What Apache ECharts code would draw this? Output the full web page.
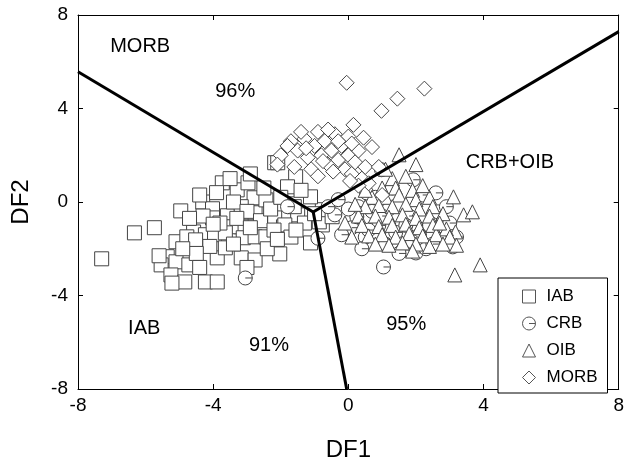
<!DOCTYPE html>
<html><head><meta charset="utf-8">
<script src="https://cdn.jsdelivr.net/npm/echarts@6/dist/echarts.min.js"></script>
<style>html,body{margin:0;padding:0;background:#fff}#c{width:627px;height:472px}</style>
</head><body><div id="c"></div>
<script>
var xTicks = [-8, -4, 0, 4, 8];
var yTicks = [-8, -4, 0, 4, 8];

var iab = [[-7.3,-2.43],[-6.33,-1.32],[-5.74,-1.1],[-4.96,-0.38],[-2.18,1.68],[-3.73,0.82],[-3.29,0.52],[-4.31,0.0],[-4.02,-0.29],[-4.02,-0.68],[-3.58,-0.59],[-2.97,0.82],[-2.79,0.18],[-3.17,-0.2],[-2.76,-0.46],[-2.44,0.09],[-2.18,-0.68],[-1.92,-1.06],[-1.8,0.52],[-3.17,-1.06],[-3.47,-1.06],[-4.58,-1.28],[-4.23,-1.4],[-3.96,-1.4],[-3.64,-1.32],[-3.11,-1.53],[-2.76,-1.49],[-2.44,-1.49],[-5.1,-1.7],[-5.36,-2.34],[-5.1,-2.56],[-4.72,-2.69],[-5.54,-2.69],[-5.25,-3.12],[-4.84,-3.42],[-5.22,-3.47],[-4.23,-3.42],[-3.88,-3.42],[-3.88,-2.39],[-3.64,-1.96],[-3.17,-2.39],[-2.76,-2.48],[-2.03,-2.22],[-4.78,-1.49],[-4.52,-1.62],[-1.12,-1.75],[-1.5,-0.55],[-0.77,-0.98],[-2.09,1.68],[-1.56,1.08],[-1.8,0.65],[-1.88,-0.98],[-0.86,-0.85],[-0.77,-0.33],[-0.48,-0.63],[-1.12,0.22],[-4.3,-0.6],[-3.9,0.4],[-3.4,0.0],[-3.0,-0.4],[-2.6,-0.8],[-2.3,-0.3],[-2.0,0.2],[-1.6,-0.2],[-1.3,-0.9],[-1.4,0.5],[-3.3,-0.7],[-3.8,-0.9],[-4.1,-1.9],[-4.5,-2.2],[-4.9,-2.0],[-3.4,-1.8],[-2.9,-1.1],[-2.2,-1.2],[-1.7,-1.5],[-2.5,0.6],[-2.9,1.2],[-3.5,1.0],[-4.4,0.3],[-4.7,-0.7],[-1.0,-0.5],[-2.4,-2.0],[-3.0,-2.8],[-4.4,-2.8],[-5.6,-2.3],[-4.0,-0.95],[-2.1,-1.6],[-1.55,-1.2]];

var crb = [[-3.05,-3.25],[-0.9,-1.55],[-1.8,-0.2],[1.04,-2.78],[2.59,0.39],[0.98,1.38],[1.92,0.95],[2.59,-0.55],[2.82,-0.85],[3.09,-1.92],[0.1,-1.1],[-0.4,-0.55],[0.25,-0.63],[0.54,0.39],[2.0,-2.18],[1.62,-2.05],[2.65,-0.42],[0.3,-0.2],[0.7,-0.4],[0.9,-1.0],[1.2,-0.3],[1.4,-1.3],[1.8,-0.6],[2.1,-1.4],[2.4,-1.0],[2.7,-1.6],[0.5,-1.5],[1.1,-1.8],[1.5,-2.2],[2.3,-2.0],[0.8,0.2],[1.3,0.6],[1.7,-1.0],[2.2,0.3],[0.4,-2.0],[3.2,-1.5],[2.9,-0.2],[0.0,-0.3],[-0.2,-1.4],[1.9,-1.7],[2.5,-1.8],[1.0,-0.6],[0.6,-1.2],[3.0,-0.9],[-0.6,-0.2],[-0.3,0.1]];

var oib = [[1.5,2.02],[2.0,1.6],[3.11,0.22],[3.41,-0.55],[3.67,-0.42],[3.17,-1.28],[3.9,-2.69],[3.15,-3.12],[1.3,1.0],[1.7,1.1],[1.0,0.6],[1.4,0.6],[1.9,0.5],[0.7,0.2],[1.1,0.2],[1.5,0.3],[2.0,0.1],[2.4,0.2],[0.5,-0.2],[0.9,-0.15],[1.3,-0.2],[1.7,-0.1],[2.1,-0.3],[2.5,-0.2],[0.3,-0.6],[0.8,-0.6],[1.2,-0.65],[1.6,-0.55],[2.0,-0.7],[2.4,-0.6],[2.8,-0.5],[0.4,-1.0],[0.9,-1.05],[1.3,-1.0],[1.7,-0.95],[2.1,-1.1],[2.5,-1.0],[2.9,-1.15],[0.6,-1.45],[1.0,-1.4],[1.4,-1.5],[1.8,-1.35],[2.2,-1.45],[2.6,-1.4],[3.0,-1.5],[0.8,-1.8],[1.2,-1.85],[1.6,-1.75],[2.0,-1.8],[2.4,-1.9],[2.8,-1.8],[3.2,-1.85],[0.2,-0.1],[0.1,-1.5],[-0.1,-0.9],[1.1,1.4],[2.2,0.7],[2.7,-0.9],[0.5,0.5],[1.9,-2.1]];

var morb = [[-0.05,5.1],[2.25,4.85],[1.45,4.42],[0.98,3.9],[0.15,3.3],[0.45,2.75],[0.7,2.35],[0.0,2.8],[-2.0,2.0],[-1.7,2.6],[-1.5,2.2],[-1.3,2.7],[-1.2,1.9],[-1.0,2.4],[-0.9,3.0],[-0.8,2.0],[-0.7,2.6],[-0.6,1.6],[-0.5,2.2],[-0.4,2.9],[-0.3,1.8],[-0.2,2.4],[-0.1,1.4],[0.0,2.0],[0.1,1.2],[0.2,1.7],[0.3,2.2],[0.4,1.0],[0.5,1.5],[0.6,0.8],[-1.6,1.5],[-1.4,3.0],[-1.1,1.4],[-0.9,1.1],[-0.6,3.1],[-0.3,2.6],[0.1,2.5],[-1.8,2.4],[-1.25,2.3],[-0.45,1.3],[0.3,0.7],[0.9,1.5],[1.0,0.3],[-2.1,1.6],[-0.75,1.75],[0.05,0.9]];

var junction = [-1.04, -0.43];
var boundaryA = [[-8, 5.57], junction];
var boundaryB = [junction, [8, 7.29]];
var boundaryC = [junction, [-0.05, -8]];

var regionLabels = [
  {name: 'MORB', value: [-6.16, 6.65]},
  {name: '96%', value: [-3.35, 4.72]},
  {name: 'CRB+OIB', value: [4.78, 1.68]},
  {name: 'IAB', value: [-6.04, -5.39]},
  {name: '91%', value: [-2.35, -6.12]},
  {name: '95%', value: [1.71, -5.26]}
];

var FONT = 'Liberation Sans, Arial, sans-serif';
var circlePath = 'path://M0,10 A10,10 0 1,1 20,10 A10,10 0 1,1 0,10 Z M10,10 L20,10';
var mk = {color: '#fff', borderColor: '#444', borderWidth: 1, opacity: 1};

function pts(name, data, symbol, size) {
  return {type: 'scatter', name: name, data: data, symbol: symbol, symbolSize: size,
    itemStyle: mk, emphasis: {disabled: true}, z: 2, animation: false};
}
function line(d) {
  return {type: 'line', data: d, symbol: 'none', lineStyle: {color: '#000', width: 3},
    z: 5, silent: true, animation: false};
}

var chart = echarts.init(document.getElementById('c'), null, {renderer: 'canvas'});
var axisCommon = {
  type: 'value', min: -8, max: 8, interval: 4,
  axisLine: {show: true, onZero: false, lineStyle: {color: '#000', width: 1}},
  axisTick: {show: true, inside: true, length: 5, lineStyle: {color: '#000'}},
  splitLine: {show: false}
};
chart.setOption({
  backgroundColor: '#fff',
  animation: false,
  textStyle: {fontFamily: FONT},
  grid: {left: 78, right: 2, top: 15, bottom: 83},
  xAxis: [
    Object.assign({}, axisCommon, {position: 'bottom',
      axisLabel: {color: '#000', fontSize: 19, margin: 7, fontFamily: FONT},
      name: 'DF1', nameLocation: 'middle', nameGap: 49,
      nameTextStyle: {color: '#000', fontSize: 24, fontFamily: FONT}}),
    Object.assign({}, axisCommon, {position: 'top', axisLabel: {show: false}})
  ],
  yAxis: [
    Object.assign({}, axisCommon, {position: 'left',
      axisLabel: {color: '#000', fontSize: 19, margin: 10, fontFamily: FONT},
      name: 'DF2', nameLocation: 'middle', nameGap: 45, nameRotate: 90,
      nameTextStyle: {color: '#000', fontSize: 24, fontFamily: FONT}}),
    Object.assign({}, axisCommon, {position: 'right', axisLabel: {show: false}})
  ],
  legend: {
    orient: 'vertical', left: 498, top: 278,
    backgroundColor: '#fff', borderColor: '#000', borderWidth: 1,
    padding: [10, 10, 7, 24], itemGap: 10, itemWidth: 13, itemHeight: 13,
    itemStyle: {color: '#fff', borderColor: '#555', borderWidth: 1, opacity: 1},
    textStyle: {color: '#000', fontSize: 17, fontFamily: FONT, padding: [0, 0, 0, 6]},
    data: [
      {name: 'IAB', icon: 'rect'},
      {name: 'CRB', icon: circlePath},
      {name: 'OIB', icon: 'triangle'},
      {name: 'MORB', icon: 'diamond'}
    ]
  },
  series: [
    pts('IAB', iab, 'rect', 14),
    pts('CRB', crb, circlePath, 14),
    pts('OIB', oib, 'triangle', 14),
    pts('MORB', morb, 'diamond', 15),
    line(boundaryA), line(boundaryB), line(boundaryC),
    {type: 'scatter', data: regionLabels, symbolSize: 0, silent: true, z: 6,
      itemStyle: {opacity: 1},
      label: {show: true, position: 'inside', formatter: '{b}', color: '#000',
        fontSize: 20, fontFamily: FONT}}
  ]
});
</script></body></html>
